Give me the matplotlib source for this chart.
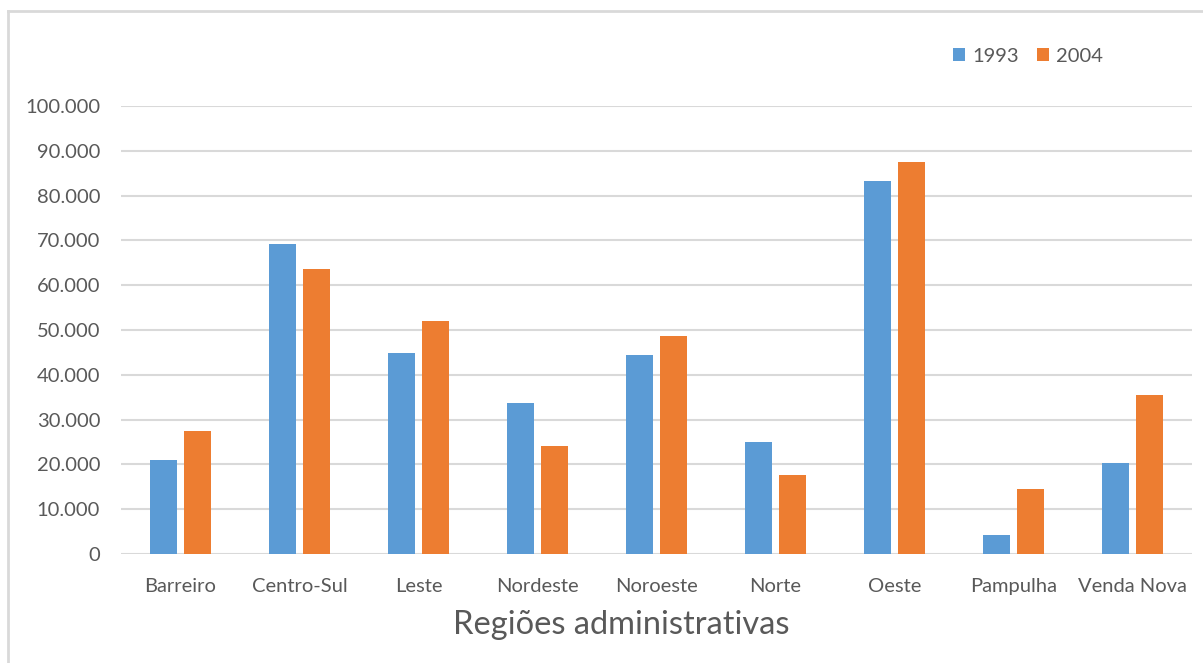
import matplotlib
matplotlib.use("Agg")
import matplotlib.pyplot as plt
import numpy as np
from matplotlib.ticker import FuncFormatter

categories = ["Barreiro", "Centro-Sul", "Leste", "Nordeste", "Noroeste",
              "Norte", "Oeste", "Pampulha", "Venda Nova"]
series_names = ["1993", "2004"]
values_1993 = [21000, 69200, 44800, 33600, 44500, 25000, 83300, 4300, 20400]
values_2004 = [27500, 63700, 52000, 24000, 48600, 17700, 87500, 14400, 35400]
yticks = [0, 10000, 20000, 30000, 40000, 50000, 60000, 70000, 80000, 90000, 100000]

blue = "#5B9BD5"
orange = "#ED7D31"
txt = "#595959"
grid = "#D9D9D9"

plt.rcParams['font.family'] = ['Lato', 'DejaVu Sans']

fig = plt.figure(figsize=(12.03, 6.63), dpi=100)
fig.patch.set_facecolor("white")
ax = fig.add_axes([121/1203, 109/663, 1071/1203, 448/663])

x = np.arange(len(categories))
w = 0.227
off = 0.143
ax.bar(x - off, values_1993, w, color=blue, label=series_names[0], zorder=3)
ax.bar(x + off, values_2004, w, color=orange, label=series_names[1], zorder=3)

ax.set_xlim(-0.5, len(categories) - 0.5)
ax.set_ylim(0, 100000)
ax.set_yticks(yticks)
ax.yaxis.set_major_formatter(FuncFormatter(lambda v, p: f"{int(v):,}".replace(",", ".")))
ax.set_xticks(x)
ax.set_xticklabels(categories)
ax.grid(axis="y", color=grid, linewidth=1.5, zorder=0)
for s in ax.spines.values():
    s.set_visible(False)
ax.tick_params(axis="both", length=0, labelcolor=txt, labelsize=14.5)
ax.tick_params(axis="y", pad=15)
ax.tick_params(axis="x", pad=17)
ax.set_xlabel("Regiões administrativas", fontsize=23.5, color=txt)
ax.xaxis.set_label_coords(0.467, -0.125)

leg = fig.legend(loc="center", bbox_to_anchor=(1028/1203, 1 - 56/663), ncol=2,
                 frameon=False, fontsize=14.5, handlelength=0.6, handleheight=0.6,
                 handletextpad=0.35, columnspacing=0.9, labelcolor=txt)

# outer chart border (left and top visible)
fig.add_artist(plt.Line2D([8/1203, 8/1203], [0, 1 - 11/663], color="#D9D9D9",
                          linewidth=2, transform=fig.transFigure))
fig.add_artist(plt.Line2D([8/1203, 1], [1 - 11/663, 1 - 11/663], color="#D9D9D9",
                          linewidth=2, transform=fig.transFigure))

fig.savefig("out.png", dpi=100, facecolor="white")
